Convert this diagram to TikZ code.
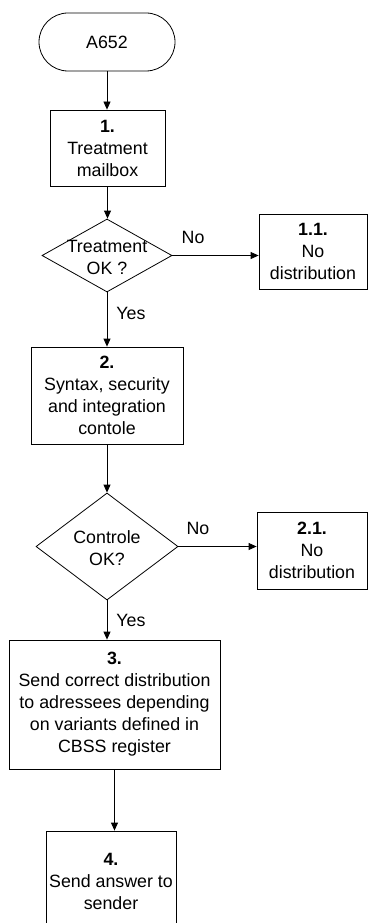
\documentclass[tikz,border=0pt]{standalone}
\usepackage{fontspec}
\setmainfont{Liberation Sans}
\usetikzlibrary{shapes.geometric,arrows.meta}

\tikzset{
  terminal/.style={draw, rounded corners=29pt, minimum width=136pt, minimum height=58pt, inner sep=0pt},
  procbox/.style={draw, align=center, inner sep=0pt},
  decision/.style={draw, diamond, inner sep=0pt},
  decisiontext/.style={align=center, inner sep=0pt},
  flow/.style={draw, -{Triangle[width=7pt,length=8pt]}},
  answer/.style={inner sep=0pt},
}

\begin{document}
\begin{tikzpicture}[x=1pt, y=-1pt, line width=0.8pt, font=\fontsize{17.8}{22}\selectfont]
	\clip (0,0) rectangle (368,923);

	% main column
	\node[terminal] (start) at (107,42) {A652};
	\node[procbox, minimum width=115pt, minimum height=76pt] (mailbox) at (107.5,148) {\textbf{1.}\\Treatment\\mailbox};
	\node[decision, minimum width=130pt, minimum height=73pt] (treatok) at (107,255.5) {};
	\node[decisiontext] (treatoktext) at (107,257) {Treatment\\OK ?};
	\node[procbox, minimum width=152pt, minimum height=97pt] (control) at (107,395.5) {\textbf{2.}\\Syntax, security\\and integration\\contole};
	\node[decision, minimum width=142pt, minimum height=107pt] (controlok) at (107,546.5) {};
	\node[decisiontext] (controloktext) at (107,548) {Controle\\OK?};
	\node[procbox, minimum width=211pt, minimum height=129pt] (send) at (114.5,704.5) {\textbf{3.}\\Send correct distribution\\to adressees depending\\on variants defined in\\CBSS register};
	\node[procbox, minimum width=130pt, minimum height=101pt] (reply) at (111,881.5) {\textbf{4.}\\Send answer to\\sender};

	% side boxes
	\node[procbox, minimum width=108pt, minimum height=75pt] (nodistA) at (313,251.5) {\textbf{1.1.}\\No\\distribution};
	\node[procbox, minimum width=110pt, minimum height=77pt] (nodistB) at (312,550.5) {\textbf{2.1.}\\No\\distribution};

	% connectors
	\draw[flow] (start.south) -- (start.south |- mailbox.north);
	\draw[flow] (mailbox.south) -- (mailbox.south |- treatok.north);
	\draw[flow] (treatok.east) -- (treatok.east -| nodistA.west) node[answer, pos=0.24, above=11pt] (noA) {No};
	\draw[flow] (treatok.south) -- (treatok.south |- control.north) node[answer, pos=0.38, right=9pt] (yesA) {Yes};
	\draw[flow] (control.south) -- (control.south |- controlok.north);
	\draw[flow] (controlok.east) -- (controlok.east -| nodistB.west) node[answer, pos=0.25, above=11pt] (noB) {No};
	\draw[flow] (controlok.south) -- (controlok.south |- send.north) node[answer, pos=0.52, right=9pt] (yesB) {Yes};
	\draw[flow] (send.south) -- (send.south |- reply.north);
\end{tikzpicture}
\end{document}
